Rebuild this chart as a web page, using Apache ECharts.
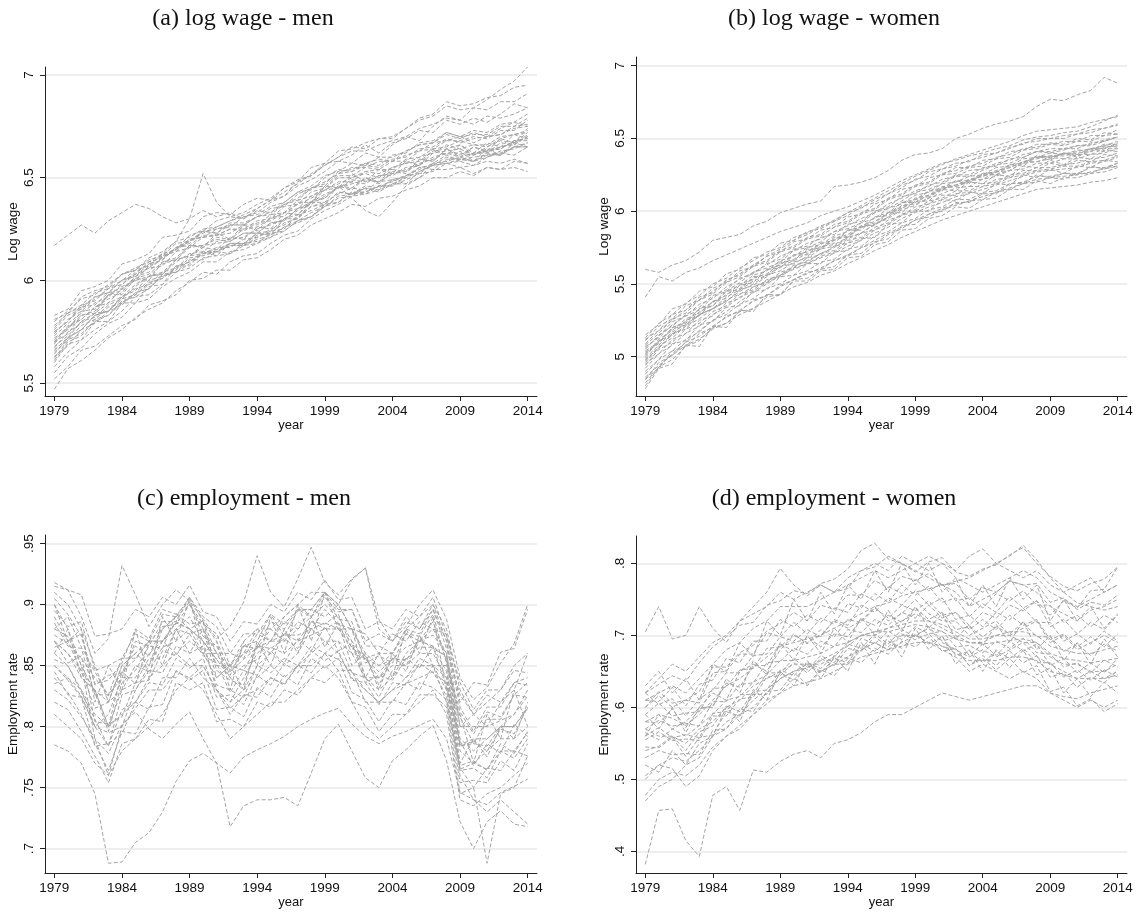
<!DOCTYPE html>
<html><head><meta charset="utf-8">
<script src="https://cdn.jsdelivr.net/npm/echarts@6/dist/echarts.min.js"></script>
<style>html,body{margin:0;padding:0;background:#fff}#c{width:1147px;height:918px}</style>
</head><body><div id="c"></div>
<script>
const years=[1979,1980,1981,1982,1983,1984,1985,1986,1987,1988,1989,1990,1991,1992,1993,1994,1995,1996,1997,1998,1999,2000,2001,2002,2003,2004,2005,2006,2007,2008,2009,2010,2011,2012,2013,2014];
const xTicks=[1979,1984,1989,1994,1999,2004,2009,2014];
const wageMenTicks=[5.5,6,6.5,7];
const wageWomenTicks=[5,5.5,6,6.5,7];
const empMenTicks=[0.7,0.75,0.8,0.85,0.9,0.95];
const empWomenTicks=[0.4,0.5,0.6,0.7,0.8];
const titles=['(a) log wage - men','(b) log wage - women','(c) employment - men','(d) employment - women'];

const wageMen=[
[6.17,6.22,6.27,6.23,6.29,6.33,6.37,6.35,6.31,6.28,6.30,6.34,6.31,6.33,6.30,6.35,6.39,6.41,6.46,6.49,6.53,6.58,6.57,6.62,6.60,6.66,6.70,6.68,6.75,6.80,6.78,6.84,6.88,6.93,6.97,7.04],
[5.83,5.86,5.95,5.97,6.00,6.08,6.10,6.13,6.21,6.22,6.24,6.31,6.33,6.32,6.37,6.40,6.39,6.45,6.49,6.51,6.57,6.58,6.61,6.66,6.62,6.67,6.69,6.73,6.72,6.78,6.76,6.79,6.77,6.81,6.86,6.84],
[5.76,5.83,5.86,5.92,5.94,6.00,6.05,6.07,6.13,6.19,6.30,6.52,6.38,6.31,6.30,6.34,6.33,6.38,6.43,6.44,6.50,6.54,6.53,6.57,6.59,6.58,6.63,6.66,6.67,6.71,6.69,6.72,6.70,6.74,6.77,6.75],
[5.47,5.57,5.61,5.66,5.72,5.76,5.82,5.86,5.89,5.95,5.99,6.04,6.03,6.09,6.12,6.13,6.18,6.22,6.24,6.30,6.34,6.37,6.41,6.42,6.44,6.49,6.47,6.53,6.56,6.57,6.58,6.56,6.60,6.62,6.61,6.65],
[5.52,5.58,5.66,5.68,5.73,5.78,5.81,5.88,5.90,5.93,6.00,6.01,6.05,6.05,6.10,6.11,6.15,6.20,6.22,6.27,6.30,6.33,6.37,6.36,6.40,6.41,6.44,6.46,6.50,6.50,6.53,6.51,6.55,6.54,6.58,6.57],
[5.62,5.71,5.74,5.80,5.83,5.90,5.92,5.96,6.03,6.04,6.08,6.13,6.14,6.17,6.17,6.21,6.24,6.25,6.32,6.34,6.37,6.43,6.42,6.46,6.45,6.49,6.50,6.55,6.54,6.59,6.59,6.58,6.62,6.61,6.65,6.67],
[5.66,5.72,5.80,5.82,5.88,5.91,5.97,6.02,6.03,6.09,6.13,6.14,6.19,6.20,6.21,6.25,6.27,6.30,6.34,6.38,6.42,6.45,6.48,6.47,6.51,6.52,6.54,6.56,6.60,6.62,6.60,6.62,6.63,6.64,6.68,6.69],
[5.69,5.77,5.81,5.87,5.89,5.96,6.00,6.02,6.08,6.10,6.16,6.17,6.21,6.20,6.25,6.26,6.30,6.33,6.35,6.41,6.44,6.47,6.50,6.52,6.50,6.55,6.57,6.58,6.63,6.64,6.66,6.61,6.65,6.68,6.67,6.72],
[5.72,5.76,5.85,5.86,5.93,5.95,6.02,6.06,6.07,6.14,6.16,6.21,6.22,6.23,6.27,6.27,6.32,6.33,6.39,6.41,6.45,6.50,6.50,6.53,6.54,6.54,6.59,6.60,6.64,6.65,6.68,6.66,6.66,6.70,6.71,6.73],
[5.74,5.81,5.85,5.91,5.96,5.98,6.04,6.08,6.12,6.14,6.20,6.21,6.25,6.27,6.27,6.31,6.33,6.37,6.40,6.45,6.46,6.52,6.53,6.56,6.55,6.59,6.60,6.64,6.65,6.69,6.67,6.69,6.70,6.71,6.75,6.76],
[5.78,5.84,5.88,5.94,5.96,6.03,6.05,6.11,6.14,6.19,6.21,6.25,6.26,6.29,6.31,6.32,6.36,6.38,6.43,6.46,6.51,6.53,6.57,6.56,6.60,6.60,6.63,6.66,6.67,6.72,6.70,6.73,6.72,6.76,6.77,6.81],
[5.64,5.72,5.76,5.83,5.85,5.92,5.95,6.02,6.03,6.10,6.12,6.16,6.15,6.21,6.20,6.26,6.25,6.33,6.32,6.39,6.40,6.46,6.45,6.50,6.48,6.54,6.53,6.59,6.58,6.64,6.60,6.65,6.62,6.67,6.66,6.71],
[5.58,5.65,5.71,5.76,5.80,5.85,5.92,5.93,5.98,6.04,6.06,6.11,6.12,6.13,6.18,6.19,6.21,6.26,6.28,6.31,6.36,6.40,6.41,6.45,6.44,6.47,6.50,6.53,6.56,6.57,6.59,6.58,6.60,6.63,6.64,6.67],
[5.71,5.77,5.83,5.85,5.93,5.97,6.00,6.07,6.10,6.16,6.18,6.24,6.25,6.26,6.31,6.33,6.38,6.41,6.48,6.51,6.56,6.60,6.65,6.64,6.69,6.70,6.74,6.79,6.81,6.87,6.85,6.86,6.89,6.90,6.94,6.95],
[5.68,5.73,5.80,5.84,5.85,5.92,5.96,5.98,6.04,6.06,6.12,6.13,6.15,6.18,6.18,6.22,6.23,6.28,6.30,6.36,6.37,6.43,6.42,6.45,6.43,6.47,6.47,6.50,6.54,6.54,6.55,6.52,6.55,6.54,6.55,6.53],
[5.75,5.80,5.87,5.88,5.94,5.96,6.01,6.03,6.09,6.11,6.17,6.17,6.20,6.19,6.23,6.23,6.28,6.29,6.35,6.38,6.44,6.45,6.49,6.48,6.51,6.51,6.55,6.56,6.62,6.63,6.64,6.61,6.64,6.64,6.68,6.68],
[5.66,5.72,5.76,5.83,5.85,5.91,5.93,5.99,6.01,6.07,6.09,6.14,6.14,6.18,6.18,6.23,6.24,6.30,6.32,6.38,6.40,6.46,6.40,6.34,6.31,6.38,6.46,6.50,6.57,6.58,6.63,6.58,6.64,6.61,6.67,6.65],
[5.80,5.85,5.91,5.93,5.98,6.03,6.05,6.10,6.12,6.18,6.19,6.24,6.23,6.27,6.27,6.31,6.32,6.37,6.39,6.45,6.47,6.53,6.54,6.57,6.56,6.61,6.62,6.67,6.68,6.72,6.70,6.71,6.71,6.75,6.75,6.79],
[5.60,5.69,5.71,5.80,5.80,5.89,5.89,5.97,5.98,6.07,6.07,6.14,6.12,6.18,6.17,6.23,6.22,6.30,6.30,6.38,6.38,6.46,6.44,6.50,6.47,6.53,6.52,6.59,6.58,6.64,6.61,6.65,6.63,6.69,6.67,6.74],
[5.70,5.78,5.81,5.87,5.91,5.94,6.02,6.04,6.12,6.15,6.22,6.24,6.29,6.31,6.33,6.37,6.40,6.45,6.48,6.55,6.57,6.63,6.64,6.67,6.69,6.69,6.74,6.78,6.80,6.85,6.83,6.84,6.83,6.87,6.87,6.91],
[5.63,5.68,5.76,5.79,5.85,5.88,5.94,5.96,6.02,6.04,6.10,6.10,6.14,6.13,6.17,6.18,6.23,6.24,6.29,6.31,6.36,6.38,6.43,6.42,6.46,6.46,6.51,6.52,6.57,6.58,6.60,6.58,6.61,6.61,6.65,6.65],
[5.77,5.84,5.87,5.92,5.94,6.00,6.02,6.08,6.10,6.16,6.17,6.22,6.22,6.25,6.25,6.29,6.30,6.36,6.37,6.43,6.45,6.51,6.51,6.55,6.54,6.58,6.58,6.63,6.64,6.68,6.68,6.70,6.69,6.73,6.73,6.78],
[5.55,5.63,5.67,5.74,5.79,5.82,5.89,5.91,5.97,6.01,6.04,6.09,6.09,6.14,6.15,6.18,6.21,6.24,6.29,6.31,6.37,6.38,6.43,6.43,6.46,6.48,6.51,6.54,6.57,6.61,6.58,6.62,6.62,6.65,6.67,6.70],
[5.81,5.84,5.92,5.95,5.97,6.03,6.06,6.09,6.13,6.15,6.20,6.21,6.22,6.25,6.24,6.28,6.29,6.33,6.37,6.40,6.44,6.48,6.48,6.53,6.52,6.55,6.57,6.60,6.62,6.66,6.64,6.66,6.65,6.69,6.71,6.72],
[5.70,5.74,5.83,5.84,5.93,5.93,6.01,6.00,6.09,6.10,6.17,6.16,6.23,6.20,6.27,6.24,6.31,6.31,6.38,6.38,6.46,6.45,6.52,6.48,6.54,6.52,6.58,6.56,6.64,6.61,6.66,6.62,6.67,6.65,6.71,6.69],
[5.67,5.75,5.79,5.84,5.89,5.92,5.98,6.02,6.04,6.10,6.12,6.17,6.18,6.19,6.23,6.23,6.28,6.29,6.35,6.37,6.41,6.45,6.47,6.49,6.48,6.52,6.53,6.57,6.59,6.62,6.62,6.61,6.63,6.65,6.66,6.70],
[5.73,5.79,5.84,5.89,5.92,5.98,6.03,6.06,6.11,6.15,6.19,6.23,6.26,6.29,6.32,6.35,6.39,6.43,6.47,6.52,6.56,6.60,6.63,6.63,6.66,6.68,6.70,6.74,6.76,6.79,6.78,6.76,6.80,6.79,6.81,6.84],
[5.65,5.71,5.78,5.81,5.87,5.89,5.94,6.00,6.02,6.05,6.11,6.12,6.14,6.17,6.17,6.20,6.22,6.26,6.29,6.33,6.36,6.41,6.42,6.43,6.46,6.46,6.49,6.52,6.53,6.57,6.55,6.56,6.58,6.57,6.59,6.57],
[5.75,5.80,5.88,5.90,5.96,6.00,6.03,6.09,6.11,6.16,6.19,6.24,6.23,6.28,6.28,6.31,6.35,6.36,6.42,6.45,6.48,6.52,6.55,6.55,6.58,6.58,6.61,6.63,6.67,6.68,6.70,6.67,6.70,6.71,6.74,6.75],
[5.61,5.70,5.73,5.81,5.83,5.89,5.93,5.98,6.01,6.06,6.09,6.13,6.16,6.16,6.20,6.21,6.25,6.27,6.31,6.36,6.38,6.42,6.45,6.44,6.48,6.49,6.51,6.55,6.56,6.60,6.59,6.60,6.61,6.62,6.65,6.65]
];

const wageWomen=[
[5.60,5.58,5.63,5.66,5.72,5.80,5.82,5.84,5.90,5.93,5.99,6.02,6.05,6.07,6.17,6.18,6.20,6.23,6.28,6.35,6.39,6.40,6.43,6.50,6.53,6.57,6.60,6.62,6.65,6.72,6.77,6.76,6.80,6.83,6.92,6.88],
[5.41,5.55,5.52,5.58,5.61,5.66,5.70,5.74,5.78,5.82,5.86,5.89,5.92,5.97,6.00,6.03,6.07,6.11,6.16,6.21,6.25,6.29,6.33,6.35,6.38,6.40,6.43,6.45,6.49,6.51,6.52,6.54,6.55,6.58,6.62,6.66],
[5.15,5.22,5.33,5.36,5.45,5.48,5.57,5.60,5.68,5.70,5.78,5.80,5.86,5.88,5.93,5.97,6.03,6.06,6.12,6.16,6.22,6.24,6.29,6.31,6.35,6.37,6.40,6.43,6.47,6.48,6.50,6.50,6.53,6.54,6.57,6.59],
[4.78,4.92,4.95,5.08,5.07,5.21,5.20,5.32,5.31,5.43,5.42,5.53,5.54,5.60,5.62,5.70,5.71,5.79,5.81,5.90,5.91,5.98,6.00,6.06,6.06,6.12,6.12,6.19,6.19,6.25,6.23,6.26,6.25,6.31,6.29,6.33],
[4.85,4.92,5.04,5.07,5.16,5.20,5.28,5.31,5.39,5.42,5.49,5.53,5.58,5.60,5.66,5.69,5.75,5.78,5.84,5.88,5.94,5.96,6.01,6.04,6.07,6.08,6.13,6.15,6.19,6.20,6.23,6.22,6.26,6.26,6.30,6.31],
[4.90,4.98,5.09,5.11,5.22,5.24,5.34,5.35,5.45,5.46,5.55,5.56,5.64,5.64,5.72,5.73,5.81,5.82,5.91,5.92,6.00,6.00,6.08,6.07,6.13,6.12,6.19,6.18,6.25,6.23,6.29,6.26,6.31,6.30,6.35,6.34],
[4.94,5.05,5.10,5.19,5.23,5.31,5.35,5.43,5.46,5.53,5.56,5.63,5.65,5.71,5.73,5.80,5.82,5.89,5.92,5.98,6.01,6.07,6.09,6.14,6.14,6.19,6.20,6.25,6.26,6.30,6.30,6.32,6.33,6.36,6.37,6.40],
[4.97,5.07,5.13,5.21,5.26,5.33,5.38,5.45,5.50,5.56,5.59,5.65,5.68,5.74,5.76,5.82,5.85,5.91,5.95,6.01,6.04,6.09,6.12,6.16,6.17,6.22,6.24,6.28,6.29,6.33,6.33,6.36,6.36,6.39,6.40,6.43],
[5.00,5.11,5.15,5.25,5.28,5.38,5.40,5.49,5.51,5.60,5.61,5.70,5.70,5.78,5.78,5.87,5.87,5.96,5.97,6.06,6.06,6.14,6.14,6.21,6.19,6.26,6.25,6.32,6.31,6.38,6.35,6.40,6.37,6.43,6.41,6.47],
[5.02,5.10,5.20,5.24,5.33,5.37,5.45,5.49,5.56,5.59,5.66,5.69,5.75,5.77,5.83,5.86,5.92,5.95,6.02,6.05,6.11,6.13,6.19,6.20,6.24,6.25,6.30,6.31,6.36,6.37,6.40,6.39,6.42,6.42,6.46,6.46],
[5.05,5.15,5.21,5.29,5.34,5.42,5.46,5.54,5.57,5.64,5.67,5.74,5.76,5.82,5.84,5.91,5.93,6.00,6.03,6.10,6.12,6.18,6.20,6.25,6.25,6.30,6.31,6.36,6.37,6.41,6.41,6.43,6.43,6.47,6.48,6.51],
[5.08,5.16,5.26,5.30,5.39,5.43,5.51,5.55,5.62,5.65,5.72,5.75,5.81,5.83,5.89,5.92,5.98,6.01,6.08,6.11,6.17,6.19,6.25,6.26,6.30,6.31,6.36,6.37,6.42,6.43,6.46,6.45,6.48,6.48,6.52,6.53],
[5.11,5.21,5.26,5.35,5.39,5.47,5.51,5.59,5.62,5.69,5.72,5.79,5.81,5.87,5.89,5.96,5.98,6.05,6.08,6.15,6.17,6.23,6.25,6.30,6.30,6.35,6.36,6.41,6.42,6.46,6.46,6.48,6.48,6.52,6.52,6.56],
[4.82,4.93,4.98,5.07,5.11,5.20,5.23,5.31,5.33,5.41,5.43,5.52,5.52,5.59,5.60,5.68,5.69,5.77,5.79,5.87,5.88,5.95,5.97,6.03,6.02,6.08,6.09,6.15,6.15,6.21,6.19,6.23,6.23,6.26,6.27,6.30],
[4.92,5.02,5.08,5.16,5.21,5.29,5.34,5.41,5.45,5.51,5.55,5.61,5.64,5.69,5.72,5.78,5.81,5.87,5.91,5.97,6.00,6.05,6.08,6.12,6.13,6.17,6.19,6.23,6.25,6.28,6.29,6.31,6.31,6.34,6.35,6.38],
[4.98,5.06,5.15,5.21,5.29,5.33,5.41,5.46,5.52,5.56,5.62,5.66,5.71,5.74,5.80,5.83,5.89,5.92,5.99,6.02,6.08,6.10,6.16,6.17,6.21,6.22,6.27,6.28,6.33,6.34,6.37,6.36,6.39,6.39,6.43,6.43],
[5.03,5.09,5.20,5.23,5.33,5.35,5.45,5.46,5.55,5.56,5.65,5.66,5.74,5.74,5.82,5.82,5.90,5.90,5.99,5.99,6.07,6.07,6.15,6.14,6.20,6.19,6.25,6.24,6.31,6.30,6.35,6.32,6.37,6.36,6.42,6.41],
[5.06,5.14,5.24,5.28,5.36,5.40,5.48,5.53,5.58,5.63,5.69,5.73,5.78,5.81,5.86,5.90,5.95,5.99,6.05,6.09,6.14,6.17,6.22,6.24,6.28,6.29,6.33,6.35,6.39,6.41,6.43,6.43,6.45,6.46,6.49,6.51],
[4.88,4.98,5.04,5.12,5.17,5.25,5.29,5.36,5.40,5.47,5.50,5.56,5.59,5.65,5.67,5.74,5.76,5.83,5.86,5.92,5.95,6.01,6.03,6.08,6.08,6.13,6.14,6.19,6.20,6.24,6.24,6.26,6.26,6.30,6.30,6.33],
[5.13,5.23,5.29,5.37,5.42,5.50,5.54,5.61,5.66,5.72,5.75,5.82,5.85,5.90,5.93,5.99,6.02,6.08,6.12,6.18,6.21,6.27,6.29,6.33,6.34,6.39,6.40,6.44,6.46,6.50,6.50,6.52,6.53,6.56,6.57,6.60],
[4.95,5.02,5.12,5.16,5.25,5.28,5.37,5.40,5.48,5.51,5.58,5.61,5.68,5.70,5.76,5.78,5.85,5.87,5.94,5.97,6.03,6.05,6.11,6.11,6.17,6.17,6.22,6.23,6.28,6.28,6.33,6.31,6.35,6.34,6.39,6.38],
[5.01,5.12,5.18,5.26,5.30,5.38,5.42,5.50,5.53,5.60,5.63,5.70,5.72,5.78,5.80,5.87,5.89,5.96,5.99,6.06,6.08,6.14,6.16,6.21,6.21,6.26,6.27,6.32,6.33,6.38,6.37,6.40,6.39,6.43,6.43,6.47],
[4.80,4.93,5.02,5.10,5.18,5.25,5.31,5.38,5.44,5.50,5.56,5.62,5.66,5.71,5.75,5.81,5.85,5.91,5.96,6.02,6.06,6.11,6.15,6.18,6.21,6.24,6.27,6.30,6.34,6.37,6.38,6.39,6.41,6.43,6.45,6.48],
[5.09,5.18,5.25,5.32,5.39,5.45,5.52,5.57,5.63,5.69,5.74,5.80,5.84,5.89,5.94,5.99,6.04,6.09,6.14,6.19,6.24,6.28,6.32,6.36,6.39,6.42,6.45,6.48,6.52,6.55,6.56,6.57,6.58,6.61,6.63,6.65],
[5.04,5.10,5.19,5.22,5.29,5.33,5.39,5.43,5.48,5.52,5.56,5.60,5.64,5.68,5.71,5.76,5.80,5.85,5.89,5.95,5.99,6.03,6.06,6.10,6.12,6.15,6.18,6.21,6.24,6.27,6.28,6.29,6.30,6.33,6.34,6.37],
[4.96,5.06,5.16,5.19,5.29,5.33,5.38,5.46,5.49,5.55,5.62,5.64,5.69,5.76,5.77,5.82,5.89,5.91,5.96,6.04,6.05,6.09,6.16,6.17,6.20,6.25,6.25,6.28,6.34,6.34,6.36,6.40,6.38,6.41,6.45,6.44],
[5.07,5.13,5.22,5.28,5.32,5.41,5.45,5.51,5.58,5.61,5.65,5.73,5.75,5.79,5.86,5.88,5.92,5.99,6.02,6.07,6.13,6.15,6.19,6.24,6.24,6.28,6.32,6.33,6.37,6.41,6.40,6.42,6.45,6.45,6.48,6.51],
[4.84,4.96,5.01,5.10,5.14,5.21,5.27,5.32,5.38,5.42,5.48,5.53,5.57,5.61,5.66,5.70,5.75,5.80,5.85,5.89,5.94,5.98,6.02,6.05,6.07,6.10,6.13,6.16,6.19,6.22,6.23,6.24,6.25,6.27,6.29,6.31],
[5.12,5.18,5.29,5.32,5.41,5.44,5.53,5.56,5.63,5.66,5.73,5.76,5.82,5.84,5.91,5.93,5.99,6.02,6.09,6.12,6.18,6.20,6.26,6.28,6.31,6.33,6.37,6.39,6.43,6.44,6.47,6.46,6.50,6.49,6.54,6.53],
[4.99,5.08,5.17,5.22,5.31,5.35,5.43,5.47,5.54,5.57,5.64,5.67,5.73,5.75,5.81,5.84,5.90,5.93,5.99,6.03,6.09,6.11,6.17,6.18,6.22,6.24,6.28,6.30,6.34,6.36,6.38,6.38,6.40,6.41,6.44,6.45],
[4.86,4.94,5.01,5.08,5.12,5.19,5.23,5.29,5.33,5.38,5.43,5.48,5.51,5.56,5.59,5.64,5.68,5.73,5.77,5.82,5.86,5.90,5.94,5.97,6.00,6.03,6.06,6.09,6.12,6.15,6.16,6.17,6.18,6.20,6.21,6.23]
];

const empMen=[
[.785,.780,.770,.745,.688,.689,.705,.713,.730,.755,.772,.778,.770,.762,.775,.781,.786,.792,.800,.806,.811,.815,.802,.792,.786,.792,.796,.801,.806,.790,.746,.740,.736,.746,.751,.757],
[.830,.822,.808,.790,.778,.802,.812,.798,.790,.802,.812,.790,.770,.718,.735,.740,.740,.742,.735,.762,.790,.802,.780,.758,.750,.772,.781,.792,.801,.772,.722,.700,.722,.731,.720,.718],
[.915,.912,.890,.860,.872,.932,.908,.882,.900,.912,.903,.888,.872,.882,.902,.940,.910,.898,.921,.947,.918,.908,.921,.930,.888,.870,.882,.900,.912,.888,.840,.822,.832,.852,.868,.900],
[.905,.892,.874,.835,.838,.852,.880,.872,.896,.892,.902,.874,.866,.842,.866,.870,.892,.874,.895,.896,.910,.888,.886,.852,.858,.852,.876,.874,.892,.852,.808,.786,.806,.806,.826,.836],
[.880,.874,.850,.828,.796,.836,.846,.866,.864,.892,.884,.886,.846,.838,.834,.866,.864,.872,.864,.886,.884,.892,.864,.858,.834,.856,.854,.872,.864,.858,.784,.788,.780,.798,.794,.816],
[.870,.852,.858,.804,.802,.808,.836,.838,.862,.858,.876,.858,.852,.828,.846,.842,.862,.852,.872,.862,.882,.862,.868,.836,.842,.838,.856,.848,.866,.832,.788,.768,.786,.778,.802,.792],
[.860,.880,.840,.830,.800,.845,.835,.870,.850,.880,.860,.880,.840,.850,.830,.870,.850,.880,.860,.890,.865,.885,.850,.860,.830,.860,.845,.875,.850,.850,.770,.790,.775,.800,.790,.820],
[.850,.838,.824,.800,.784,.814,.820,.836,.834,.856,.848,.856,.824,.826,.818,.842,.834,.852,.844,.862,.854,.862,.838,.836,.818,.836,.834,.852,.844,.836,.768,.772,.764,.786,.778,.796],
[.895,.882,.886,.846,.850,.856,.876,.870,.892,.890,.906,.890,.882,.860,.876,.876,.892,.884,.896,.890,.906,.894,.896,.870,.876,.870,.886,.880,.896,.864,.826,.810,.826,.820,.836,.834],
[.840,.828,.810,.786,.764,.796,.794,.816,.818,.846,.838,.846,.814,.816,.808,.832,.824,.842,.834,.856,.848,.856,.828,.822,.804,.822,.818,.836,.832,.822,.754,.756,.754,.772,.764,.786],
[.875,.868,.856,.840,.826,.856,.856,.870,.870,.886,.880,.886,.860,.860,.856,.876,.870,.886,.880,.896,.890,.900,.880,.876,.860,.876,.870,.886,.880,.876,.820,.836,.834,.861,.864,.896],
[.865,.870,.845,.815,.820,.830,.850,.845,.865,.870,.880,.870,.855,.840,.850,.855,.865,.860,.870,.875,.880,.880,.865,.855,.845,.855,.855,.865,.865,.845,.785,.790,.790,.800,.800,.815],
[.820,.814,.796,.776,.754,.786,.790,.806,.804,.836,.830,.836,.804,.806,.800,.820,.816,.830,.826,.840,.836,.846,.820,.816,.796,.810,.810,.826,.826,.816,.745,.750,.688,.745,.750,.776],
[.890,.870,.876,.834,.842,.844,.866,.858,.882,.884,.900,.884,.876,.850,.866,.864,.880,.870,.886,.880,.896,.884,.880,.856,.860,.860,.876,.870,.886,.854,.812,.794,.812,.808,.826,.824],
[.900,.870,.880,.820,.850,.830,.880,.840,.890,.870,.905,.860,.870,.830,.870,.850,.890,.860,.900,.870,.910,.880,.880,.840,.860,.840,.880,.860,.890,.830,.810,.770,.810,.790,.830,.800],
[.855,.850,.828,.806,.784,.826,.830,.846,.844,.866,.860,.866,.834,.830,.824,.850,.844,.856,.850,.866,.860,.870,.844,.840,.824,.846,.840,.856,.850,.840,.764,.766,.758,.780,.774,.790],
[.880,.890,.865,.845,.825,.845,.855,.870,.870,.885,.880,.870,.855,.845,.855,.865,.870,.875,.875,.880,.885,.880,.870,.855,.850,.855,.865,.870,.875,.860,.800,.800,.800,.805,.810,.825],
[.845,.826,.824,.784,.786,.794,.820,.814,.840,.840,.856,.840,.830,.810,.826,.824,.840,.834,.850,.844,.860,.846,.846,.820,.820,.820,.836,.830,.850,.820,.766,.750,.766,.764,.780,.776],
[.918,.912,.908,.874,.876,.880,.896,.890,.906,.900,.916,.894,.890,.870,.886,.884,.900,.894,.910,.904,.920,.904,.906,.880,.886,.880,.896,.890,.906,.874,.836,.814,.830,.830,.846,.844],
[.870,.860,.846,.830,.800,.830,.836,.856,.856,.880,.876,.880,.850,.850,.846,.866,.860,.876,.870,.886,.880,.886,.860,.856,.840,.856,.850,.870,.866,.856,.784,.786,.784,.800,.800,.816],
[.835,.840,.825,.800,.795,.800,.815,.830,.830,.845,.840,.850,.830,.815,.825,.830,.840,.835,.850,.850,.860,.855,.845,.830,.820,.830,.835,.840,.845,.825,.765,.770,.765,.780,.780,.795],
[.885,.866,.864,.826,.826,.840,.870,.866,.886,.886,.906,.886,.870,.846,.860,.866,.886,.880,.896,.896,.910,.896,.896,.866,.866,.860,.880,.876,.896,.870,.816,.796,.816,.816,.836,.840],
[.900,.880,.850,.790,.760,.800,.830,.850,.870,.880,.890,.870,.830,.820,.840,.860,.870,.870,.880,.890,.900,.890,.870,.840,.830,.840,.860,.870,.880,.860,.790,.780,.790,.800,.810,.830],
[.810,.800,.790,.770,.760,.780,.790,.800,.810,.830,.840,.830,.810,.790,.800,.810,.820,.820,.830,.840,.850,.840,.820,.800,.790,.800,.810,.820,.830,.810,.740,.735,.745,.750,.760,.770],
[.870,.860,.840,.830,.820,.850,.860,.850,.880,.890,.880,.860,.840,.850,.870,.880,.870,.890,.900,.890,.910,.900,.920,.930,.880,.870,.890,.880,.900,.870,.800,.810,.800,.820,.830,.860],
[.860,.850,.830,.800,.810,.840,.840,.860,.870,.860,.870,.860,.860,.840,.830,.850,.860,.850,.860,.880,.870,.870,.860,.840,.840,.850,.850,.860,.860,.840,.780,.770,.780,.790,.790,.800],
[.910,.900,.880,.850,.820,.850,.860,.870,.880,.890,.900,.880,.860,.850,.860,.880,.880,.890,.900,.910,.910,.900,.880,.860,.850,.860,.880,.890,.900,.880,.830,.810,.820,.830,.850,.860],
[.850,.840,.830,.810,.800,.810,.820,.840,.850,.860,.850,.850,.830,.820,.830,.840,.850,.840,.850,.860,.870,.860,.840,.830,.820,.830,.840,.850,.850,.830,.760,.740,.730,.740,.730,.720]
];

const empWomen=[
[.382,.457,.459,.415,.393,.478,.490,.457,.513,.510,.525,.535,.540,.530,.550,.555,.565,.580,.590,.590,.600,.610,.620,.615,.610,.615,.620,.625,.630,.630,.620,.615,.612,.620,.625,.630],
[.705,.740,.695,.700,.740,.710,.690,.720,.740,.760,.793,.770,.755,.770,.760,.765,.790,.795,.810,.800,.790,.780,.770,.760,.740,.750,.760,.775,.770,.760,.740,.730,.720,.735,.740,.750],
[.620,.632,.644,.636,.662,.684,.698,.714,.718,.742,.748,.762,.758,.772,.778,.792,.818,.828,.806,.800,.788,.802,.808,.788,.782,.792,.798,.812,.822,.800,.782,.768,.762,.772,.778,.795],
[.600,.616,.600,.610,.606,.648,.650,.674,.674,.704,.698,.718,.702,.724,.716,.744,.738,.758,.746,.770,.756,.768,.746,.752,.726,.744,.732,.754,.738,.748,.712,.722,.702,.718,.708,.728],
[.580,.578,.598,.572,.598,.602,.634,.628,.658,.658,.688,.678,.698,.684,.702,.698,.722,.714,.728,.718,.738,.722,.732,.708,.712,.698,.712,.702,.718,.698,.698,.678,.688,.672,.688,.678],
[.560,.572,.558,.562,.558,.592,.594,.618,.618,.648,.648,.668,.652,.672,.662,.688,.682,.702,.688,.708,.698,.712,.692,.698,.672,.688,.672,.692,.678,.688,.658,.668,.648,.662,.648,.668],
[.545,.544,.558,.532,.558,.562,.594,.588,.618,.618,.648,.638,.658,.648,.668,.662,.688,.678,.692,.682,.702,.688,.698,.672,.678,.662,.678,.668,.682,.662,.662,.642,.652,.638,.652,.642],
[.590,.570,.600,.565,.600,.600,.640,.620,.665,.645,.690,.665,.700,.675,.710,.690,.725,.700,.735,.705,.740,.710,.730,.695,.715,.685,.715,.690,.720,.680,.700,.665,.690,.660,.695,.670],
[.530,.540,.534,.536,.534,.568,.570,.598,.594,.622,.624,.648,.632,.652,.644,.668,.662,.682,.674,.692,.684,.698,.678,.682,.658,.672,.658,.678,.662,.672,.642,.648,.628,.642,.634,.652],
[.570,.582,.574,.578,.574,.608,.608,.632,.634,.662,.664,.682,.674,.692,.684,.708,.704,.722,.714,.732,.724,.742,.724,.732,.714,.732,.724,.742,.734,.748,.728,.748,.738,.762,.764,.795],
[.610,.608,.628,.602,.632,.638,.668,.662,.692,.692,.722,.712,.728,.718,.738,.732,.758,.748,.768,.758,.778,.762,.772,.748,.752,.738,.758,.748,.762,.742,.742,.718,.728,.712,.728,.718],
[.555,.566,.554,.556,.554,.588,.588,.612,.614,.642,.644,.662,.648,.668,.658,.682,.678,.698,.684,.702,.694,.702,.684,.682,.658,.668,.652,.668,.648,.658,.622,.628,.602,.612,.594,.605],
[.500,.520,.530,.525,.540,.560,.580,.590,.610,.625,.640,.650,.655,.665,.675,.685,.700,.705,.710,.715,.720,.720,.715,.705,.695,.695,.700,.705,.705,.700,.685,.680,.675,.675,.680,.685],
[.630,.650,.620,.640,.610,.660,.650,.690,.670,.720,.700,.750,.720,.760,.730,.770,.750,.790,.760,.800,.770,.800,.760,.780,.740,.770,.740,.780,.750,.770,.720,.750,.720,.740,.710,.730],
[.590,.606,.588,.592,.594,.626,.628,.652,.654,.682,.684,.702,.688,.708,.698,.722,.718,.738,.724,.742,.734,.748,.728,.732,.708,.722,.708,.728,.714,.722,.694,.702,.684,.698,.684,.702],
[.565,.555,.570,.560,.575,.590,.610,.615,.635,.645,.665,.665,.670,.675,.685,.690,.700,.705,.705,.710,.715,.712,.705,.695,.690,.688,.690,.693,.695,.690,.675,.668,.665,.662,.665,.668],
[.478,.500,.510,.505,.520,.545,.560,.575,.590,.605,.620,.630,.635,.640,.650,.660,.670,.675,.680,.685,.690,.690,.685,.675,.665,.665,.665,.670,.670,.665,.650,.645,.640,.640,.640,.645],
[.620,.604,.612,.588,.612,.624,.648,.648,.672,.674,.698,.692,.708,.698,.722,.714,.742,.732,.752,.742,.762,.742,.752,.722,.728,.712,.732,.722,.738,.718,.718,.692,.702,.688,.706,.692],
[.580,.590,.585,.575,.590,.610,.630,.640,.655,.670,.685,.690,.695,.700,.710,.720,.730,.740,.745,.755,.760,.765,.770,.775,.780,.790,.800,.810,.825,.805,.780,.760,.745,.740,.735,.740],
[.540,.546,.560,.540,.566,.574,.602,.594,.622,.624,.652,.644,.662,.654,.672,.668,.696,.688,.706,.694,.712,.702,.706,.684,.686,.676,.692,.682,.696,.676,.674,.656,.662,.648,.666,.656],
[.520,.510,.540,.520,.550,.560,.600,.580,.625,.610,.650,.630,.665,.640,.670,.650,.690,.660,.700,.670,.710,.680,.700,.660,.680,.650,.680,.655,.680,.645,.655,.620,.640,.615,.635,.620],
[.600,.622,.606,.610,.622,.656,.656,.676,.686,.706,.716,.732,.720,.742,.736,.756,.756,.776,.766,.782,.776,.786,.770,.772,.750,.766,.760,.776,.770,.772,.746,.752,.736,.746,.742,.756],
[.505,.520,.515,.490,.505,.540,.560,.570,.590,.610,.620,.640,.630,.650,.660,.660,.680,.690,.680,.700,.700,.710,.690,.680,.670,.680,.670,.680,.690,.670,.660,.650,.640,.650,.640,.650],
[.620,.640,.660,.650,.670,.690,.700,.720,.730,.740,.760,.750,.760,.770,.760,.780,.790,.800,.790,.810,.800,.790,.800,.790,.810,.820,.800,.790,.780,.790,.770,.760,.770,.780,.760,.770],
[.560,.590,.570,.580,.600,.620,.610,.650,.660,.650,.680,.700,.690,.700,.720,.710,.720,.740,.720,.730,.750,.730,.720,.720,.700,.710,.720,.700,.710,.720,.690,.700,.680,.690,.700,.690],
[.570,.560,.560,.550,.570,.580,.600,.610,.630,.640,.650,.660,.660,.650,.660,.670,.680,.690,.680,.690,.700,.690,.680,.670,.650,.660,.650,.640,.650,.640,.620,.610,.600,.610,.600,.610],
[.610,.620,.630,.620,.640,.660,.680,.690,.710,.720,.740,.740,.740,.750,.760,.770,.780,.790,.780,.790,.800,.810,.800,.780,.770,.760,.770,.780,.790,.780,.760,.750,.740,.750,.760,.770],
[.470,.490,.500,.520,.530,.560,.570,.590,.600,.620,.640,.650,.660,.660,.670,.690,.700,.700,.710,.720,.730,.720,.710,.700,.690,.690,.700,.700,.690,.690,.670,.660,.660,.650,.650,.660]
];

const panels=[
  {data:wageMen,ticks:wageMenTicks,yname:'Log wage',min:5.437,max:7.039,grid:{left:45,top:67,width:492,height:329},title:[243,19]},
  {data:wageWomen,ticks:wageWomenTicks,yname:'Log wage',min:4.730,max:7.060,grid:{left:636,top:57,width:491,height:339},title:[834,19]},
  {data:empMen,ticks:empMenTicks,yname:'Employment rate',min:0.680,max:0.957,grid:{left:45,top:535,width:492,height:338},title:[244,499]},
  {data:empWomen,ticks:empWomenTicks,yname:'Employment rate',min:0.370,max:0.838,grid:{left:636,top:536,width:491,height:337},title:[834,499]}
];

const sans='"Liberation Sans", Arial, Helvetica, sans-serif';
const axisLineStyle={color:'#222',width:1};
const fmtY=v=>{let s=String(+v.toFixed(3));return s.replace(/^0\./,'.');};

const option={
  animation:false,
  backgroundColor:'#fff',
  grid:panels.map(p=>Object.assign({containLabel:false},p.grid)),
  xAxis:panels.map((p,i)=>({
    type:'value',gridIndex:i,min:1978.31,max:2014.69,
    axisLine:{show:true,onZero:false,lineStyle:axisLineStyle},
    axisTick:{show:true,length:5,inside:false,customValues:xTicks,lineStyle:axisLineStyle},
    axisLabel:{show:true,customValues:xTicks,margin:8,color:'#111',fontSize:13.5,fontFamily:sans,formatter:v=>String(Math.round(v))},
    splitLine:{show:false},
    name:'year',nameLocation:'middle',nameGap:22,
    nameTextStyle:{color:'#111',fontSize:13,fontFamily:sans}
  })),
  yAxis:panels.map((p,i)=>({
    type:'value',gridIndex:i,min:p.min,max:p.max,
    axisLine:{show:true,onZero:false,lineStyle:axisLineStyle},
    axisTick:{show:true,length:5,inside:false,customValues:p.ticks,lineStyle:axisLineStyle},
    axisLabel:{show:true,customValues:p.ticks,rotate:90,margin:9,color:'#111',fontSize:13.5,fontFamily:sans,formatter:fmtY},
    splitLine:{show:true,lineStyle:{color:'#e8e8e8',width:1.5}},
    name:p.yname,nameLocation:'middle',nameGap:25,
    nameTextStyle:{color:'#111',fontSize:13.5,fontFamily:sans}
  })),
  graphic:panels.map((p,i)=>({
    type:'text',x:p.title[0],y:p.title[1],silent:true,
    style:{text:titles[i],textAlign:'center',textVerticalAlign:'middle',fill:'#111',font:'24px "Liberation Serif", "DejaVu Serif", serif'}
  })),
  series:[]
};
panels.forEach((p,i)=>{
  p.data.forEach(arr=>{
    option.series.push({
      type:'line',xAxisIndex:i,yAxisIndex:i,
      data:years.map((y,k)=>[y,arr[k]]),
      showSymbol:false,symbol:'none',silent:true,
      lineStyle:{color:'#a4a4a4',width:1,type:[4,2.2]},
      emphasis:{disabled:true}
    });
  });
});
const chart=echarts.init(document.getElementById('c'),null,{renderer:'canvas'});
chart.setOption(option);
</script></body></html>
